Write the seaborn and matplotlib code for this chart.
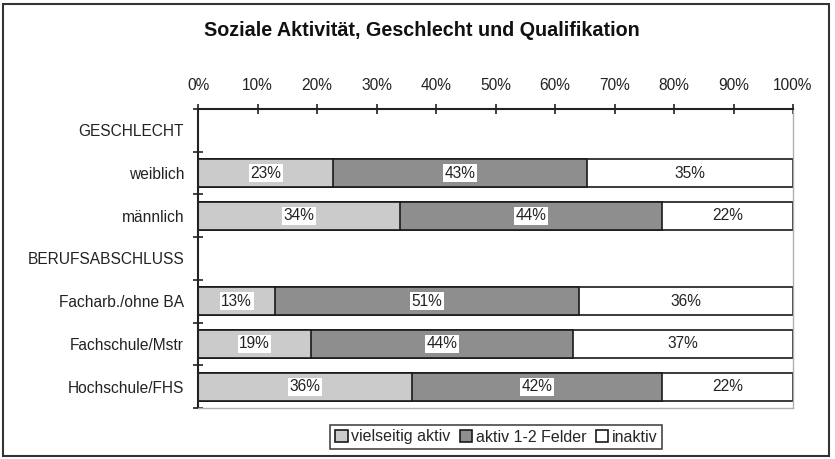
import numpy as np
import pandas as pd
import matplotlib
matplotlib.use("Agg")
import matplotlib.pyplot as plt
from matplotlib.patches import Rectangle, Patch
import seaborn as sns

title = "Soziale Aktivität, Geschlecht und Qualifikation"
rows = ["GESCHLECHT", "weiblich", "männlich", "BERUFSABSCHLUSS",
        "Facharb./ohne BA", "Fachschule/Mstr", "Hochschule/FHS"]
groups = ["weiblich", "männlich", "Facharb./ohne BA", "Fachschule/Mstr", "Hochschule/FHS"]
vielseitig = [23, 34, 13, 19, 36]
aktiv12 = [43, 44, 51, 44, 42]
inaktiv = [35, 22, 36, 37, 22]
series_names = ["vielseitig aktiv", "aktiv 1-2 Felder", "inaktiv"]
colors = ["#cbcbcb", "#8e8e8e", "#ffffff"]
xticks = [0, 10, 20, 30, 40, 50, 60, 70, 80, 90, 100]

sns.set_theme(style="white")
plt.rcParams["font.family"] = ["Liberation Sans", "DejaVu Sans"]

df = pd.DataFrame({"group": groups, "v": vielseitig, "a": aktiv12, "i": inaktiv})
tot = df["v"] + df["a"] + df["i"]
df["p1"] = df["v"] / tot * 100
df["p2"] = (df["v"] + df["a"]) / tot * 100
df["p3"] = 100.0

fig = plt.figure(figsize=(8.35, 4.59), dpi=100)
ax = fig.add_axes([198/835, 1-408/459, (793-198)/835, (408-109)/459])

for col, c in zip(["p3", "p2", "p1"], [colors[2], colors[1], colors[0]]):
    sns.barplot(data=df, x=col, y="group", order=rows, orient="h", color=c,
                saturation=1, width=0.65, edgecolor="#1a1a1a", linewidth=1.2, ax=ax)

fs = 11.2
for _, r in df.iterrows():
    y = rows.index(r["group"])
    starts = [0, r["p1"], r["p2"]]
    ends = [r["p1"], r["p2"], 100]
    for s, e, val in zip(starts, ends, [r["v"], r["a"], r["i"]]):
        ax.text((s + e) / 2, y, f"{val}%", ha="center", va="center", fontsize=fs,
                color="#222222",
                bbox=dict(boxstyle="square,pad=0.1", fc="white", ec="none"))

ax.set_xlim(0, 100)
ax.set_ylim(len(rows) - 0.5, -0.5)
ax.xaxis.tick_top()
ax.set_xticks(xticks)
ax.set_xticklabels([f"{t}%" for t in xticks], fontsize=fs, color="#222222")
ax.tick_params(axis="x", direction="inout", length=7, width=1.2, color="#222222",
               pad=8, top=True, bottom=False)
ax.set_yticks(range(len(rows)))
ax.set_yticklabels(rows, fontsize=fs, color="#222222")
ax.set_yticks(np.arange(-0.5, len(rows)), minor=True)
ax.tick_params(axis="y", which="major", length=0, pad=10)
ax.tick_params(axis="y", which="minor", direction="inout", length=7, width=1.2,
               color="#222222", left=True)
ax.set_xlabel("")
ax.set_ylabel("")
for s in ["top", "left"]:
    ax.spines[s].set_color("#222222")
    ax.spines[s].set_linewidth(1.5)
for s in ["right", "bottom"]:
    ax.spines[s].set_color("#b0b0b0")
    ax.spines[s].set_linewidth(1.0)
ax.grid(False)

fig.text(422/835, 1-30/459, title, ha="center", va="center", fontsize=14.2,
         fontweight="bold", color="#111111")

handles = [Patch(facecolor=c, edgecolor="#1a1a1a", linewidth=1.2) for c in colors]
leg = fig.legend(handles, series_names, loc="center", bbox_to_anchor=(496/835, 1-437/459),
                 ncol=3, frameon=True, fontsize=11.5, handlelength=0.8, handleheight=0.8,
                 handletextpad=0.2, columnspacing=0.6, borderpad=0.3, fancybox=False)
leg.get_frame().set_edgecolor("#1a1a1a")
leg.get_frame().set_linewidth(1.2)

fig.patches.append(Rectangle((3/835, 3/459), 826/835, 452/459, transform=fig.transFigure,
                             fill=False, edgecolor="#333333", linewidth=1.5))

fig.savefig("out.png", dpi=100)
